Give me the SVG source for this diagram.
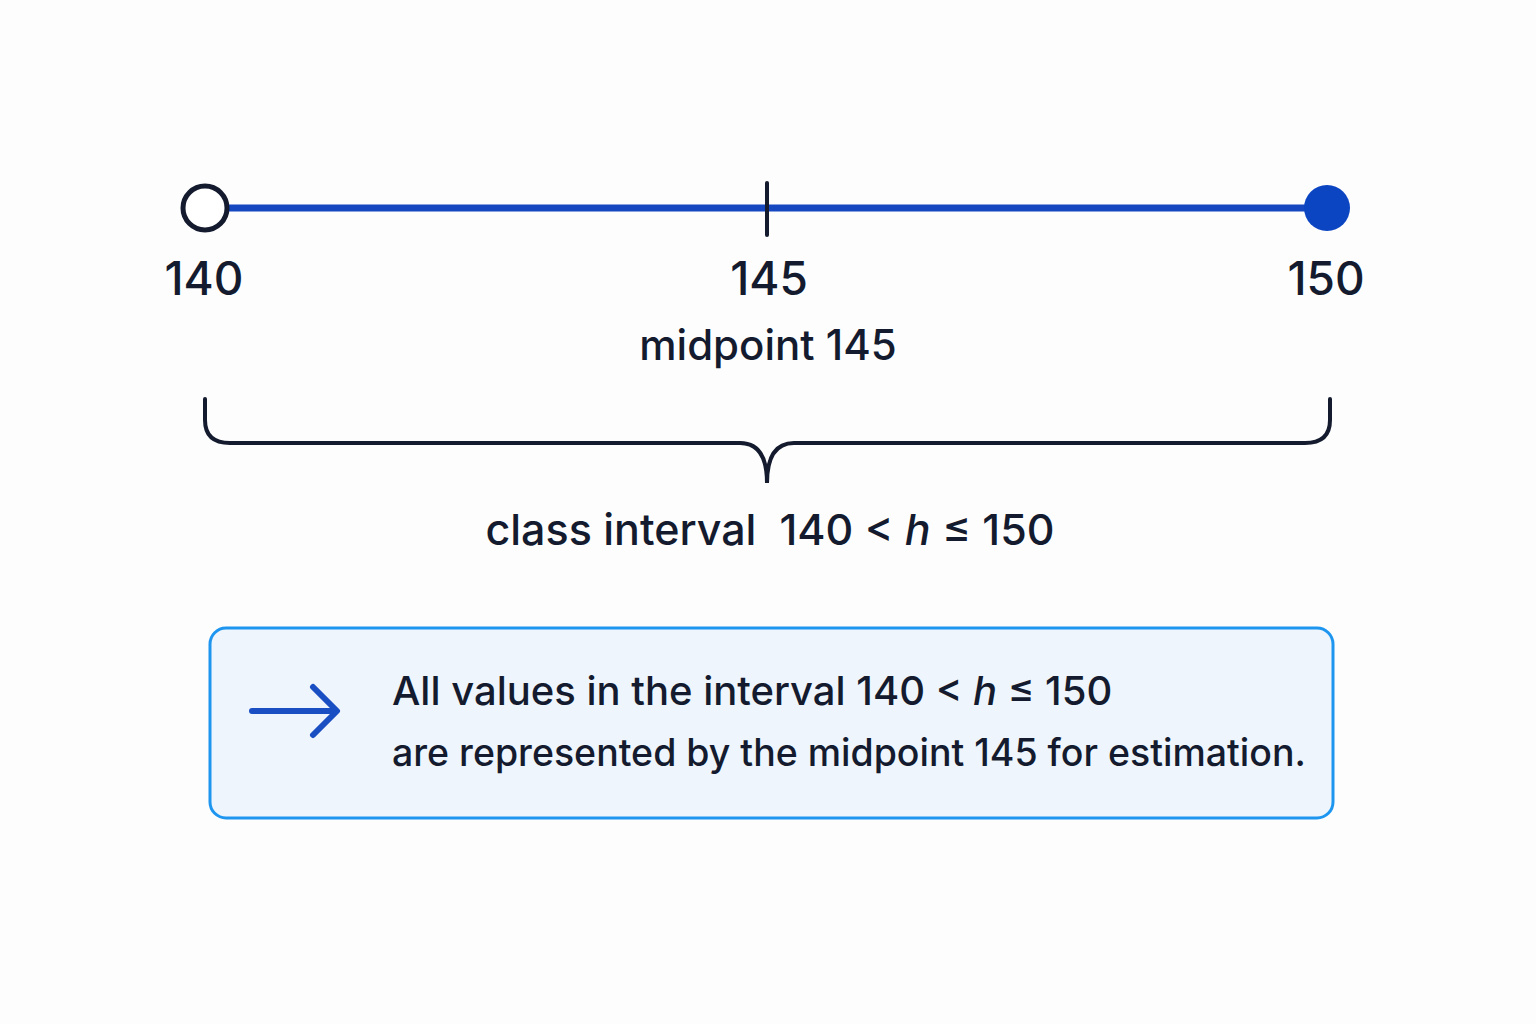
<svg xmlns="http://www.w3.org/2000/svg" width="1536" height="1024" viewBox="0 0 1536 1024">
<style>
.t{font-family:Inter,"Noto Sans",sans-serif;fill:#141b2e;font-weight:500}
.dk{stroke:#141b2e;fill:none;stroke-linecap:round}
</style>
<rect width="1536" height="1024" fill="#fdfdfe"/>
<g id="connectors">
<line x1="205" y1="208" x2="1327" y2="208" stroke="#1447c0" stroke-width="7"/>
</g>
<g id="tick145"><line x1="767" y1="183" x2="767" y2="235" class="dk" stroke-width="4"/></g>
<g id="p140"><circle cx="205" cy="208" r="22" fill="#fff" stroke="#141b2e" stroke-width="5"/></g>
<g id="p150"><circle cx="1327" cy="208" r="23" fill="#0b45c2"/></g>
<g id="labels">
<text class="t" x="204" y="295" font-size="46" text-anchor="middle">140</text>
<text class="t" x="769" y="295" font-size="46" text-anchor="middle">145</text>
<text class="t" x="1326" y="295" font-size="46" text-anchor="middle">150</text>
<text class="t" x="768" y="360" font-size="42" text-anchor="middle">midpoint 145</text>
</g>
<g id="brace"><path class="dk" stroke-width="4" d="M205,399 V420 Q205,443 230,443 H740 Q767,443 767,483 Q767,443 794,443 H1305 Q1330,443 1330,420 V399"/></g>
<g id="interval"><text class="t" x="770" y="545" font-size="43" text-anchor="middle" xml:space="preserve">class interval  140 &lt; <tspan font-style="italic">h</tspan> ≤ 150</text></g>
<g id="note">
<rect x="210" y="628" width="1123" height="190" rx="16" fill="#eef5fd" stroke="#1e96f0" stroke-width="3"/>
<path d="M252,711 H336 M313,687 L337,711 L313,735" fill="none" stroke="#1a4fc4" stroke-width="6" stroke-linecap="round" stroke-linejoin="round"/>
<text class="t" x="392" y="705" font-size="40">All values in the interval 140 &lt; <tspan font-style="italic">h</tspan> ≤ 150</text>
<text class="t" x="392" y="766" font-size="37.5">are represented by the midpoint 145 for estimation.</text>
</g>
</svg>
